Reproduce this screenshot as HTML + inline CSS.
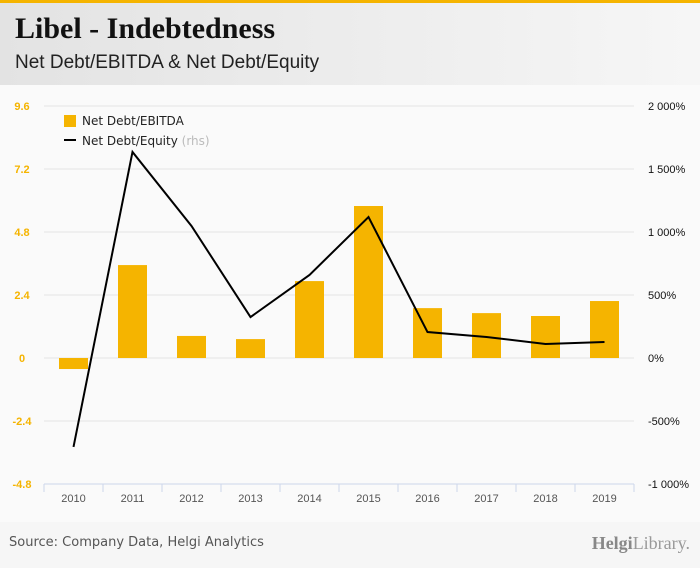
<!DOCTYPE html>
<html><head><meta charset="utf-8"><style>
body{margin:0;width:700px;height:568px;overflow:hidden;background:#fafafa;font-family:"Liberation Sans",sans-serif;position:relative}
#top{position:absolute;left:0;top:0;width:700px;height:3px;background:#f5b400}
#hdr{position:absolute;left:0;top:3px;width:700px;height:82px;background:linear-gradient(90deg,#e3e3e3,#f6f6f6)}
#title{position:absolute;left:15px;top:12px;font:bold 30px "Liberation Serif",serif;color:#111}
#sub{position:absolute;left:15px;top:52px;font:19px "Liberation Sans",sans-serif;color:#222}
#foot{position:absolute;left:0;top:522px;width:700px;height:46px;background:#f6f6f6}
#src{position:absolute;left:9px;top:535px;font:13px "DejaVu Sans",sans-serif;color:#555}
#logo{position:absolute;right:10px;top:533px;font:18px "Liberation Serif",serif;color:#999}
svg{position:absolute;left:0;top:0}
</style></head><body>
<div id="top"></div>
<div id="hdr"></div>
<div id="title">Libel - Indebtedness</div>
<div id="sub">Net Debt/EBITDA &amp; Net Debt/Equity</div>
<div id="foot"></div>
<div id="src">Source: Company Data, Helgi Analytics</div>
<div id="logo"><b style="color:#888">Helgi</b>Library.</div>
<svg id="c" width="700" height="568"></svg>
<script>
const categories=['2010','2011','2012','2013','2014','2015','2016','2017','2018','2019'];
const ebitda=[-0.42,3.54,0.84,0.72,2.93,5.79,1.9,1.71,1.6,2.17];
const equity=[-706,1635,1048,325,659,1119,206,167,111,127];
const leftTicks=[9.6,7.2,4.8,2.4,0,-2.4,-4.8];
const leftLabels=['9.6','7.2','4.8','2.4','0','-2.4','-4.8'];
const rightTicks=[2000,1500,1000,500,0,-500,-1000];
const rightLabels=['2 000%','1 500%','1 000%','500%','0%','-500%','-1 000%'];
const NS='http://www.w3.org/2000/svg',svg=document.getElementById('c');
const x0=44,x1=634,yT=106,yB=484;
const yL=v=>yT+(9.6-v)/14.4*(yB-yT);
const yR=v=>yT+(2000-v)/3000*(yB-yT);
const step=(x1-x0)/categories.length;
const xC=i=>x0+step*(i+0.5);
function mk(t,a,p){const e=document.createElementNS(NS,t);for(const k in a)e.setAttribute(k,a[k]);(p||svg).appendChild(e);return e;}
leftTicks.forEach((v,i)=>{
 const g=mk('line',{x1:x0,x2:x1,y1:yL(v),y2:yL(v),stroke:'#e4e4e4','stroke-width':1});
 
 
 const t=mk('text',{x:22,y:yL(v)+4,'text-anchor':'middle','font-size':11,'font-weight':'bold',fill:'#f5b400','font-family':'Liberation Sans,sans-serif'});
 t.textContent=leftLabels[i];
 
 
});
rightTicks.forEach((v,i)=>{
 const t=mk('text',{x:648,y:yR(v)+4,'font-size':11,fill:'#111','font-family':'Liberation Sans,sans-serif'});
 t.textContent=rightLabels[i];
 
 
});
const ax=mk('line',{x1:x0,x2:x1,y1:yB,y2:yB,stroke:'#ccd6eb'});


for(let i=0;i<=categories.length;i++){
 const tk=mk('line',{x1:x0+step*i,x2:x0+step*i,y1:yB,y2:yB+8,stroke:'#ccd6eb'});
 
 
}
categories.forEach((c,i)=>{
 const t=mk('text',{x:xC(i),y:502,'text-anchor':'middle','font-size':11,fill:'#555','font-family':'Liberation Sans,sans-serif'});
 t.textContent=c;
 
 
});
ebitda.forEach((v,i)=>{
 const y=Math.min(yL(v),yL(0)),h=Math.abs(yL(v)-yL(0));
 const r=mk('rect',{x:xC(i)-14.5,y:y,width:29,height:h,fill:'#f5b400'});
 
 
});
const pl=mk('polyline',{points:equity.map((v,i)=>xC(i)+','+yR(v)).join(' '),fill:'none',stroke:'#000','stroke-width':2});


const lb=mk('rect',{x:64,y:115,width:12,height:12,fill:'#f5b400'});


const t1=mk('text',{x:82,y:125,'font-size':12,fill:'#222','font-family':'DejaVu Sans,sans-serif'});
t1.textContent='Net Debt/EBITDA';


const ll=mk('line',{x1:64,x2:76,y1:140,y2:140,stroke:'#000','stroke-width':2});


const t2=mk('text',{x:82,y:145,'font-size':12,fill:'#222','font-family':'DejaVu Sans,sans-serif'});
t2.innerHTML='Net Debt/Equity <tspan fill="#bbb">(rhs)</tspan>';


</script>
</body></html>
